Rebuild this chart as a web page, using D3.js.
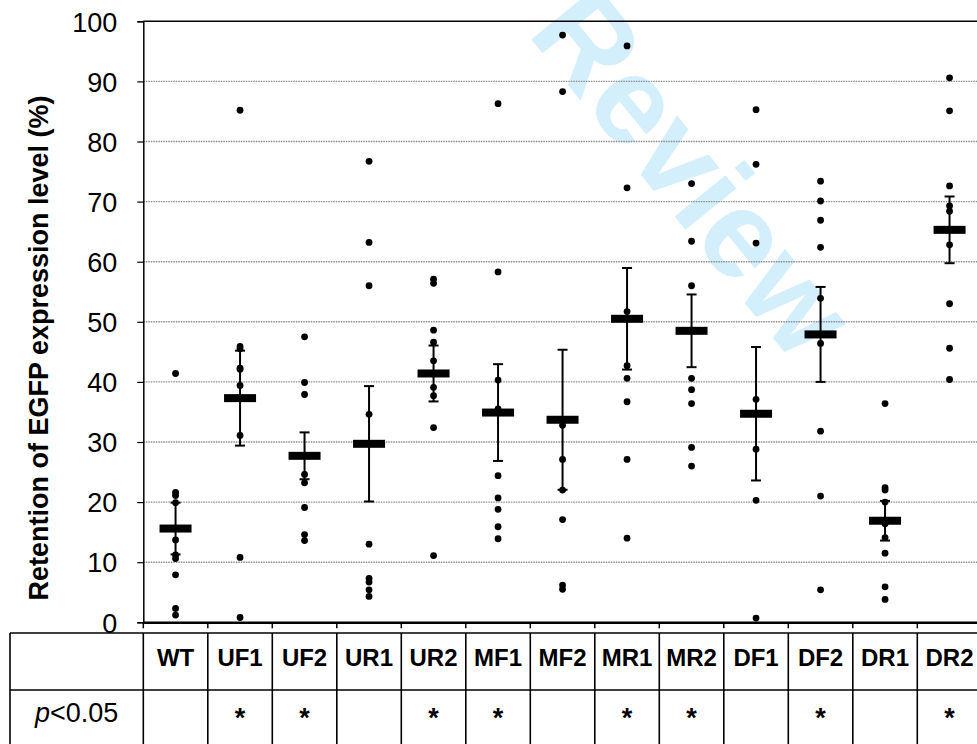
<!DOCTYPE html>
<html>
<head>
<meta charset="utf-8">
<script src="https://cdn.jsdelivr.net/npm/d3@7"></script>
<style>
  html, body { margin: 0; padding: 0; background: #fff; }
  svg { display: block; font-family: "Liberation Sans", Arial, Helvetica, sans-serif; }
</style>
</head>
<body>
<svg id="chart" width="977" height="744"></svg>
<script>
// ---------- data ----------
const categories = ["WT","UF1","UF2","UR1","UR2","MF1","MF2","MR1","MR2","DF1","DF2","DR1","DR2"];
const means  = [15.6, 37.3, 27.7, 29.7, 41.4, 34.9, 33.7, 50.5, 48.5, 34.7, 47.9, 16.9, 65.3];
const errors = [4.3, 7.9, 3.9, 9.6, 4.65, 8.05, 11.65, 8.45, 6.05, 11.1, 7.9, 3.3, 5.55];
const significant = [false, true, true, false, true, true, false, true, true, false, true, false, true];
const points = [
  [41.4, 21.6, 21.1, 19.9, 13.7, 11.2, 10.6, 7.9, 2.3, 1.2],
  [85.2, 45.9, 45.5, 42.3, 42.1, 39.4, 31.1, 10.8, 0.8],
  [47.5, 39.9, 37.9, 24.6, 23.2, 19.1, 14.6, 13.6],
  [76.7, 63.2, 56.0, 34.6, 13.0, 7.3, 6.7, 5.4, 4.3],
  [57.1, 56.4, 48.6, 46.6, 43.5, 39.1, 37.7, 32.4, 11.1],
  [86.3, 58.3, 40.3, 35.5, 24.4, 20.7, 18.8, 15.9, 13.9],
  [97.7, 88.3, 32.8, 27.1, 22.0, 17.1, 6.2, 5.5],
  [95.9, 72.3, 51.7, 42.7, 40.6, 36.7, 27.1, 14.0],
  [73.0, 63.4, 56.0, 40.6, 38.7, 36.4, 29.1, 26.0],
  [85.3, 76.2, 63.1, 37.1, 28.8, 20.3, 0.7],
  [73.4, 70.1, 66.9, 62.4, 53.9, 46.4, 31.8, 21.0, 5.4],
  [36.4, 22.4, 22.0, 20.0, 16.4, 14.1, 11.5, 5.9, 3.8],
  [90.6, 85.1, 72.6, 69.3, 68.4, 62.8, 53.0, 45.6, 40.4]
];
const yTicks = [0,10,20,30,40,50,60,70,80,90,100];
const yLabel = "Retention of EGFP expression level (%)";
const rowLabel = "<0.05";
const watermark = "Review";

// ---------- layout ----------
const svg = d3.select("#chart");
const W = 977, H = 744;
const plotLeft = 143.3, plotRight = 981.8, plotTop = 21.3, plotBottom = 622.3;
const tableLeft = 10, tableTop = 633, tableMid = 690;

const x = d3.scaleBand().domain(categories).range([plotLeft, plotRight]).padding(0);
const y = d3.scaleLinear().domain([0, 100]).range([plotBottom, plotTop]);

// watermark (behind everything)
svg.append("text")
  .attr("transform", "translate(694,172) rotate(51)")
  .attr("text-anchor", "middle")
  .attr("dominant-baseline", "central")
  .attr("font-size", 124)
  .attr("font-weight", "bold")
  .attr("fill", "#d3effc")
  .text(watermark);

// gridlines
svg.append("g")
  .selectAll("line")
  .data(yTicks.filter(t => t > 0 && t < 100))
  .join("line")
  .attr("x1", plotLeft).attr("x2", W)
  .attr("y1", d => y(d)).attr("y2", d => y(d))
  .attr("stroke", "#8c8c8c")
  .attr("stroke-width", 1.4)
  .attr("stroke-dasharray", "1.5,1");

// top border
svg.append("line")
  .attr("x1", plotLeft).attr("x2", W)
  .attr("y1", y(100)).attr("y2", y(100))
  .attr("stroke", "#000").attr("stroke-width", 1.5);

// y axis
const yAxis = svg.append("g")
  .attr("transform", `translate(${plotLeft},0)`)
  .call(d3.axisLeft(y).tickValues(yTicks).tickSize(6).tickPadding(20));
yAxis.select(".domain").attr("stroke", "#000").attr("stroke-width", 1.5);
yAxis.selectAll(".tick line").attr("stroke", "#000").attr("stroke-width", 1.2);
yAxis.selectAll(".tick text")
  .attr("font-size", 27)
  .attr("font-family", "Liberation Sans, Arial, sans-serif")
  .attr("fill", "#000")
  .attr("dy", "0.36em");

// x axis baseline with downward ticks at category boundaries
const xAxis = svg.append("g")
  .attr("transform", `translate(0,${plotBottom})`)
  .call(d3.axisBottom(x).tickSize(0).tickFormat(""));
xAxis.select(".domain").attr("stroke", "#000").attr("stroke-width", 2.5);
svg.append("g")
  .selectAll("line")
  .data(categories)
  .join("line")
  .attr("x1", d => x(d)).attr("x2", d => x(d))
  .attr("y1", plotBottom).attr("y2", plotBottom + 6)
  .attr("stroke", "#000").attr("stroke-width", 1.5);

// y label
svg.append("text")
  .attr("transform", `translate(48,348) rotate(-90)`)
  .attr("text-anchor", "middle")
  .attr("font-size", 27)
  .attr("font-weight", "bold")
  .attr("fill", "#000")
  .text(yLabel);

// data points
const cx = c => x(c) + x.bandwidth() / 2;
const dotData = [];
categories.forEach((c, i) => points[i].forEach(v => dotData.push({c, v})));
svg.append("g")
  .selectAll("circle")
  .data(dotData)
  .join("circle")
  .attr("cx", d => cx(d.c))
  .attr("cy", d => y(d.v))
  .attr("r", 3.4)
  .attr("fill", "#000");

// error bars
const eb = svg.append("g").attr("stroke", "#000").attr("stroke-width", 2);
categories.forEach((c, i) => {
  const hi = y(means[i] + errors[i]), lo = y(means[i] - errors[i]);
  eb.append("line").attr("x1", cx(c)).attr("x2", cx(c)).attr("y1", hi).attr("y2", lo);
  eb.append("line").attr("x1", cx(c) - 5).attr("x2", cx(c) + 5).attr("y1", hi).attr("y2", hi);
  eb.append("line").attr("x1", cx(c) - 5).attr("x2", cx(c) + 5).attr("y1", lo).attr("y2", lo);
});

// mean bars
svg.append("g")
  .selectAll("rect")
  .data(categories)
  .join("rect")
  .attr("x", d => cx(d) - 16)
  .attr("y", (d, i) => y(means[i]) - 4)
  .attr("width", 32)
  .attr("height", 8)
  .attr("fill", "#000");

// ---------- table ----------
const tbl = svg.append("g").attr("stroke", "#000").attr("stroke-width", 1.6);
tbl.append("line").attr("x1", tableLeft).attr("x2", W).attr("y1", tableTop).attr("y2", tableTop);
tbl.append("line").attr("x1", tableLeft).attr("x2", W).attr("y1", tableMid).attr("y2", tableMid);
tbl.append("line").attr("x1", tableLeft).attr("x2", tableLeft).attr("y1", tableTop).attr("y2", H);
tbl.selectAll(".col")
  .data(categories)
  .join("line")
  .attr("class", "col")
  .attr("x1", d => x(d)).attr("x2", d => x(d))
  .attr("y1", tableTop).attr("y2", H);

svg.append("g")
  .selectAll("text")
  .data(categories)
  .join("text")
  .attr("x", d => cx(d))
  .attr("y", 666)
  .attr("text-anchor", "middle")
  .attr("font-size", 24)
  .attr("font-weight", "bold")
  .attr("fill", "#000")
  .text(d => d);

svg.append("g")
  .selectAll("text")
  .data(categories.filter((c, i) => significant[i]))
  .join("text")
  .attr("x", d => cx(d))
  .attr("y", 727)
  .attr("text-anchor", "middle")
  .attr("font-size", 27)
  .attr("font-weight", "bold")
  .attr("fill", "#000")
  .text("*");

const pl = svg.append("text")
  .attr("x", (tableLeft + plotLeft) / 2)
  .attr("y", 722)
  .attr("text-anchor", "middle")
  .attr("font-size", 27)
  .attr("fill", "#000");
pl.append("tspan").attr("font-style", "italic").text("p");
pl.append("tspan").text(rowLabel);
</script>
</body>
</html>
